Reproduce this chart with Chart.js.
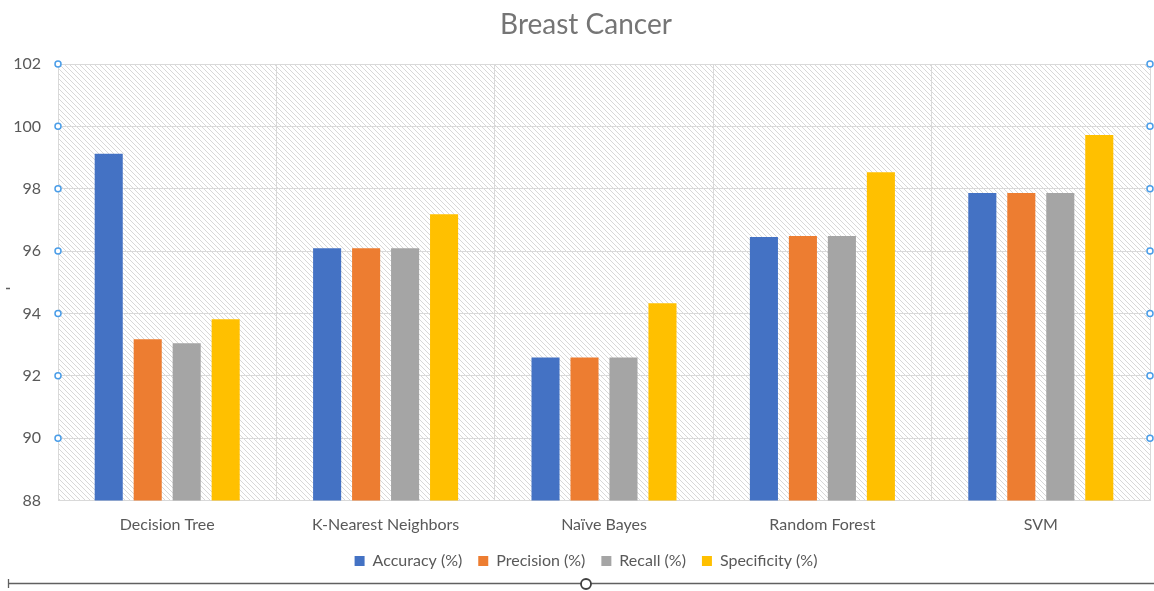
<!DOCTYPE html>
<html>
<head>
<meta charset="utf-8">
<script src="https://cdn.jsdelivr.net/npm/chart.js@4"></script>
<style>
  html, body { margin: 0; padding: 0; background: #ffffff; }
  #wrap { width: 1154px; height: 591px; position: relative; }
</style>
</head>
<body>
<div id="wrap"><canvas id="c" width="1154" height="591"></canvas></div>
<script>
// Classifier results on the breast cancer data set
const categories = ['Decision Tree', 'K-Nearest Neighbors', 'Naïve Bayes', 'Random Forest', 'SVM'];
const accuracy    = [99.12, 96.09, 92.59, 96.45, 97.86];
const precision   = [93.17, 96.09, 92.59, 96.48, 97.86];
const recall      = [93.04, 96.09, 92.59, 96.48, 97.86];
const specificity = [93.81, 97.18, 94.33, 98.53, 99.72];
const seriesNames = ['Accuracy (%)', 'Precision (%)', 'Recall (%)', 'Specificity (%)'];
const seriesColors = ['#4472C4', '#ED7D31', '#A5A5A5', '#FFC000'];
const yMin = 88, yMax = 102, yStep = 2;

const FONT = 'Lato, "Open Sans", sans-serif';
const TEXT = '#595959';

// Diagonal hatch fill for the plot area
function makeHatch() {
  const s = 5;
  const p = document.createElement('canvas');
  p.width = s; p.height = s;
  const g = p.getContext('2d');
  g.fillStyle = '#ffffff';
  g.fillRect(0, 0, s, s);
  g.strokeStyle = '#d8d8d8';
  g.lineWidth = 1;
  g.beginPath();
  g.moveTo(-1, -1); g.lineTo(s + 1, s + 1);
  g.moveTo(-1, s - 1); g.lineTo(1, s + 1);
  g.moveTo(s - 1, -1); g.lineTo(s + 1, 1);
  g.stroke();
  return p;
}

const hatchPlugin = {
  id: 'hatch',
  beforeDraw(chart) {
    const { ctx, chartArea: a } = chart;
    ctx.save();
    ctx.fillStyle = ctx.createPattern(makeHatch(), 'repeat');
    ctx.fillRect(a.left, a.top, a.right - a.left, a.bottom - a.top);
    ctx.restore();
  }
};

// Center title and legend on the whole chart frame, not only the padded box
const centerPlugin = {
  id: 'centerBlocks',
  afterLayout(chart) {
    const shift = 11;
    [chart.titleBlock, chart.legend].forEach(b => {
      if (b) { b.left += shift; b.right += shift; }
    });
  }
};

// Selection handles on the plot edges and the slider line below the chart
const handlesPlugin = {
  id: 'handles',
  afterDraw(chart) {
    const { ctx, chartArea: a } = chart;
    const y = chart.scales.y;
    ctx.save();
    ctx.lineWidth = 1.5;
    ctx.strokeStyle = '#4a9de8';
    ctx.fillStyle = '#ffffff';
    for (let v = yMin + yStep; v <= yMax; v += yStep) {
      const py = y.getPixelForValue(v);
      [a.left, a.right].forEach(px => {
        ctx.beginPath();
        ctx.arc(px, py, 3, 0, Math.PI * 2);
        ctx.fill();
        ctx.stroke();
      });
    }
    // slider
    ctx.strokeStyle = '#606060';
    ctx.lineWidth = 1.3;
    ctx.beginPath();
    ctx.moveTo(8, 583.5); ctx.lineTo(1154, 583.5);
    ctx.moveTo(8.5, 579); ctx.lineTo(8.5, 588);
    ctx.moveTo(6, 288.5); ctx.lineTo(10, 288.5);
    ctx.stroke();
    ctx.lineWidth = 1.8;
    ctx.strokeStyle = '#404040';
    ctx.beginPath();
    ctx.arc(586, 584, 5, 0, Math.PI * 2);
    ctx.fill();
    ctx.stroke();
    ctx.restore();
  }
};

const datasets = [accuracy, precision, recall, specificity].map((d, i) => ({
  label: seriesNames[i],
  data: d,
  backgroundColor: seriesColors[i],
  borderWidth: 0,
  categoryPercentage: 0.714,
  barPercentage: 0.72
}));

new Chart(document.getElementById('c'), {
  type: 'bar',
  data: { labels: categories, datasets },
  plugins: [hatchPlugin, centerPlugin, handlesPlugin],
  options: {
    responsive: false,
    animation: false,
    devicePixelRatio: 1,
    layout: { padding: { left: 0, right: 4, top: 0, bottom: 12 } },
    plugins: {
      title: {
        display: true,
        text: 'Breast Cancer',
        color: '#757575',
        font: { family: FONT, size: 28, weight: 'normal' },
        padding: { top: 8, bottom: 22.4 }
      },
      legend: {
        position: 'bottom',
        labels: {
          color: TEXT,
          font: { family: FONT, size: 16 },
          boxWidth: 10,
          boxHeight: 10,
          padding: 16
        }
      },
      tooltip: { enabled: false }
    },
    scales: {
      x: {
        afterFit(scale) { scale.height = 36.5; },
        grid: { display: true, offset: true, color: '#d9d9d9', drawTicks: false },
        border: { display: true, color: '#d9d9d9' },
        ticks: { color: TEXT, font: { family: FONT, size: 16 }, padding: 15 }
      },
      y: {
        min: yMin,
        max: yMax,
        afterFit(scale) { scale.width = 58; },
        grid: { color: '#d9d9d9', drawTicks: false },
        border: { display: true, color: '#d9d9d9' },
        ticks: { stepSize: yStep, color: TEXT, font: { family: FONT, size: 16 }, padding: 17 }
      }
    }
  }
});
</script>
</body>
</html>
